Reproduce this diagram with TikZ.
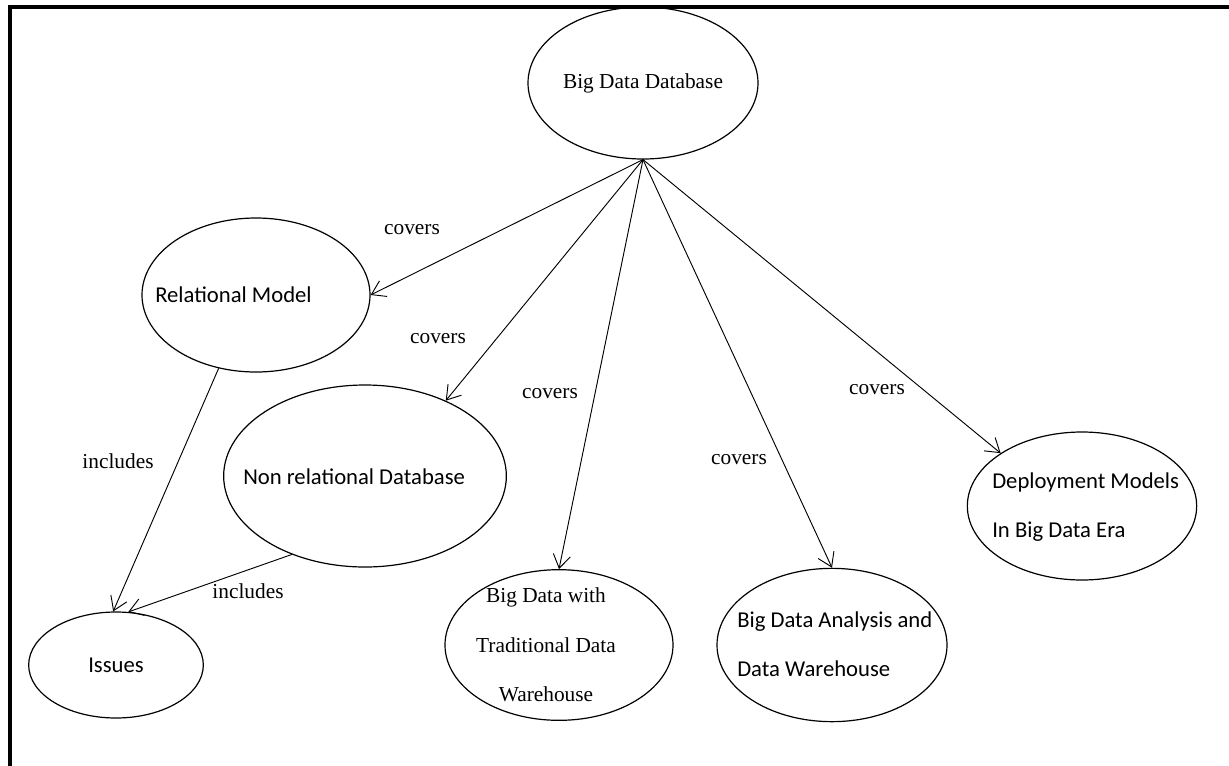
\documentclass[tikz,border=0pt]{standalone}
\usepackage{fontspec}
\setmainfont{Liberation Serif}
\newfontfamily\calibri{Carlito}
\usetikzlibrary{shapes.geometric,arrows.meta}

\tikzset{
  bubble/.style={draw, ellipse, line width=0.9pt, inner sep=0pt},
  serif/.style={font=\fontsize{16}{37}\selectfont, inner sep=0pt},
  sans/.style={font=\calibri\fontsize{17}{37}\selectfont, inner sep=0pt},
  link/.style={line width=0.7pt, -{Straight Barb[length=10pt,width=13pt]}},
}

\begin{document}
\begin{tikzpicture}[x=0.75pt, y=-0.75pt]
\useasboundingbox (0,0) rectangle (1229,765);

% Cadre
\draw[line width=2.4pt] (10,770) -- (10,7) -- (1235,7);

% Ellipses
\node[bubble, serif, minimum width=172.5pt, minimum height=114pt] (bdd) at (643,83) {Big Data Database};
\node[bubble, minimum width=171pt, minimum height=115.5pt] (rel) at (256,295) {};
\node[bubble, minimum width=212pt, minimum height=136.5pt] (nonrel) at (365,476) {};
\node[bubble, sans, minimum width=131pt, minimum height=79.5pt] (issues) at (116,665) {Issues};
\node[bubble, minimum width=171pt, minimum height=113pt] (trad) at (559,645) {};
\node[bubble, minimum width=172.5pt, minimum height=115pt] (ana) at (832,645) {};
\node[bubble, minimum width=172pt, minimum height=111pt] (dep) at (1082,506) {};

% Textes
\node[sans, anchor=west] (reltxt) at (155,295) {Relational Model};
\node[sans, anchor=west] (nonreltxt) at (243,477) {Non relational Database};
\node[serif, align=center] (tradtxt) at (546,645) {Big Data with\\Traditional Data\\Warehouse};
\node[sans, anchor=west, align=left] (anatxt) at (737,644) {Big Data Analysis and\\Data Warehouse};
\node[sans, anchor=west, align=left] (deptxt) at (992,507) {Deployment Models\\In Big Data Era};

% Fleches
\draw[link] (bdd.south) -- (rel.east);
\draw[link] (bdd.south) -- (nonrel.43);
\draw[link] (bdd.south) -- (trad.north);
\draw[link] (bdd.south) -- (ana.north);
\draw[link] (bdd.south) -- (dep.147);
\draw[link] (rel.243) -- (issues.93);
\draw[link] (nonrel.227) -- (issues.77);

% Etiquettes
\node[serif] (cov1) at (412,230) {covers};
\node[serif] (cov2) at (438,339) {covers};
\node[serif] (cov3) at (550,394) {covers};
\node[serif] (cov4) at (739,460) {covers};
\node[serif] (cov5) at (877,390) {covers};
\node[serif] (inc1) at (118,461) {includes};
\node[serif] (inc2) at (248,591) {includes};

\end{tikzpicture}
\end{document}
